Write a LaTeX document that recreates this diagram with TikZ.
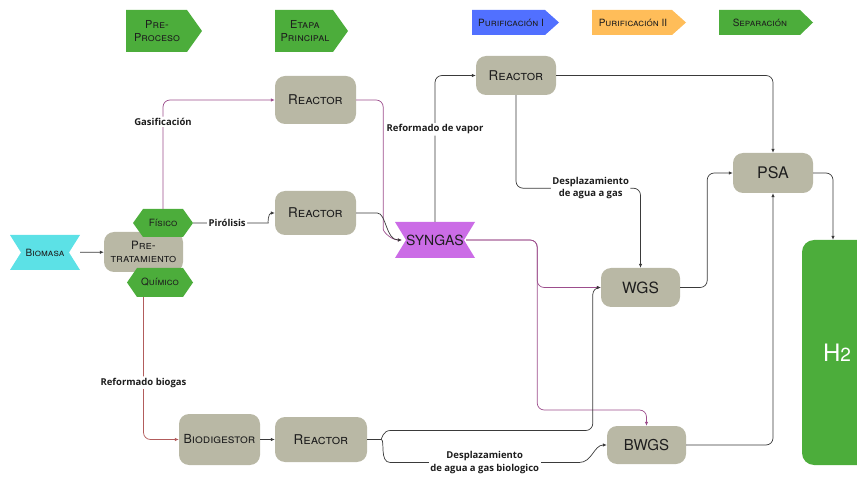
\documentclass[tikz,border=0pt]{standalone}
\usepackage{fontspec}
\setmainfont{TeX Gyre Heros}
\newfontfamily\lblfamily{Open Sans}
\usetikzlibrary{arrows.meta,positioning}
\definecolor{boxgray}{HTML}{B9B8A5}
\definecolor{taggreen}{HTML}{4CAD3B}
\definecolor{tagblue}{HTML}{5170FF}
\definecolor{tagorange}{HTML}{FFBD59}
\definecolor{biocyan}{HTML}{5CE1E6}
\definecolor{synviolet}{HTML}{CB6CE6}
\definecolor{linegray}{HTML}{3A3A3A}
\definecolor{linepurp}{HTML}{9C4D8C}
\definecolor{linered}{HTML}{B25C5C}
\definecolor{textdark}{HTML}{1E1E1E}
\tikzset{
  box/.style={rectangle, rounded corners=10pt, fill=boxgray, inner sep=0pt,
    align=center, text=textdark, font=\fontsize{12.5}{14}\selectfont\scshape},
  reactor/.style={box, font=\fontsize{13.5}{15}\selectfont\scshape},
  notch/.style={rectangle, inner sep=0pt, align=center, text=textdark,
    path picture={\fill[#1] (path picture bounding box.north west)
      -- (path picture bounding box.north east)
      -- ([xshift=-11pt]path picture bounding box.east)
      -- (path picture bounding box.south east)
      -- (path picture bounding box.south west)
      -- ([xshift=11pt]path picture bounding box.west) -- cycle;}},
  hexa/.style={rectangle, inner sep=0pt, align=center, text=textdark,
    font=\fontsize{10}{12}\selectfont\scshape,
    path picture={\fill[taggreen] ([xshift=10pt]path picture bounding box.north west)
      -- ([xshift=-10pt]path picture bounding box.north east)
      -- (path picture bounding box.east)
      -- ([xshift=-10pt]path picture bounding box.south east)
      -- ([xshift=10pt]path picture bounding box.south west)
      -- (path picture bounding box.west) -- cycle;}},
  tagtext/.style={align=center, inner sep=0pt, text=textdark, font=\fontsize{11}{13}\selectfont\scshape},
  lbl/.style={fill=white, inner sep=1.5pt, align=center, text=textdark,
    font=\lblfamily\bfseries\fontsize{9.5}{12.5}\selectfont},
  flow/.style={draw=linegray, line width=0.7pt, rounded corners=7pt,
    -{Latex[length=4pt,width=3.5pt]}},
  purp/.style={flow, draw=linepurp},
}
\begin{document}
\begin{tikzpicture}[x=1pt,y=-1pt]
\useasboundingbox (0,0) rectangle (857,478);
% legend tags
\fill[taggreen] (126,10) -- (187,10) -- (202,31) -- (187,52) -- (126,52) -- cycle;
\node[tagtext] (tpre) at (157,31) {Pre-\\Proceso};
\fill[taggreen] (275,10) -- (333,10) -- (348,31) -- (333,52) -- (275,52) -- cycle;
\node[tagtext] (tetapa) at (305,31) {Etapa\\Principal};
\fill[tagblue] (472,10) -- (545,10) -- (559,22.5) -- (545,35) -- (472,35) -- cycle;
\node[tagtext, font=\fontsize{10}{12}\selectfont\scshape] (tpur1) at (511,22.5) {Purificación I};
\fill[tagorange] (592,10) -- (672,10) -- (686,22.5) -- (672,35) -- (592,35) -- cycle;
\node[tagtext, font=\fontsize{10}{12}\selectfont\scshape] (tpur2) at (633,22.5) {Purificación II};
\fill[taggreen] (719,10) -- (800,10) -- (813,22.5) -- (800,35) -- (719,35) -- cycle;
\node[tagtext, font=\fontsize{10}{12}\selectfont\scshape] (tsep) at (760,22.5) {Separación};

% process nodes
\node[notch=biocyan, minimum width=70pt, minimum height=35pt,
  font=\fontsize{10}{12}\selectfont\scshape] (bio) at (45,252.5) {Biomasa};
\node[box, minimum width=79pt, minimum height=40pt,
  font=\fontsize{11.5}{12.5}\selectfont\scshape] (pre) at (143.5,252) {Pre-\\tratamiento};
\node[hexa, minimum width=60pt, minimum height=28pt] (fis) at (163,223) {Físico};
\node[hexa, minimum width=66pt, minimum height=29pt] (qui) at (160,282.5) {Químico};
\node[reactor, minimum width=81pt, minimum height=48pt] (rea1) at (315.5,100) {Reactor};
\node[reactor, minimum width=81pt, minimum height=44pt] (rea2) at (315.5,213) {Reactor};
\node[reactor, minimum width=80pt, minimum height=39pt] (rea3) at (516,75.5) {Reactor};
\node[notch=synviolet, minimum width=80pt, minimum height=36pt,
  font=\fontsize{14}{16}\selectfont] (syn) at (435,240) {SYNGAS};
\node[box, minimum width=79pt, minimum height=39pt, font=\fontsize{15.5}{17}\selectfont] (wgs) at (640.5,287.5) {WGS};
\node[box, minimum width=80pt, minimum height=40pt, font=\fontsize{16}{18}\selectfont] (psa) at (773,173) {PSA};
\node[box, minimum width=79pt, minimum height=38pt, font=\fontsize{15}{17}\selectfont] (bwgs) at (646.5,445) {BWGS};
\node[box, minimum width=81pt, minimum height=51pt] (dig) at (219.5,439.5) {Biodigestor};
\node[reactor, minimum width=92pt, minimum height=45pt] (rea4) at (321,439.5) {Reactor};
\node[rectangle, rounded corners=12pt, fill=taggreen, text=white, minimum width=70pt,
  minimum height=225pt, font=\fontsize{24}{26}\selectfont] (h2) at (837,352.5)
  {H\fontsize{19}{20}\selectfont 2};

% connectors
\draw[flow] (bio) -- (pre);
\draw[purp] (fis.north) |- node[lbl, pos=0.4] {Gasificación} (rea1.west);
\draw[flow] (fis.east) -- node[lbl] {Pirólisis} ++(68,0) [sharp corners] to[out=0, in=180] (rea2.west);
\draw[purp] (rea1.east) -| ++(27,122) [sharp corners] to[out=-90, in=180] ([xshift=7pt]syn.west);
\draw[flow] (rea2.east) -- ++(14,0) [sharp corners] to[out=0, in=180] ([xshift=7pt]syn.west);
\draw[flow] (syn.north) |- node[lbl, pos=0.316] {Reformado de vapor} (rea3.west);
\draw[flow] (rea3.east) -| (psa.north);
\draw[flow] (rea3.south) -- ++(0,93) -| node[lbl, pos=0.3] {Desplazamiento\\de agua a gas} (wgs.north);
\draw[purp] ([xshift=-9pt]syn.east) -- ++(71,0) |- (wgs.west);
\draw[purp] ([xshift=-9pt]syn.east) -- ++(71,0) -- ++(0,170) -| (bwgs.north);
\draw[flow] (wgs.east) -- ++(27,0) |- (psa.west);
\draw[flow] (psa.east) -| ([xshift=-4pt]h2.north);
\draw[flow, draw=linered] (qui.south -| pre.south) |- node[lbl, pos=0.3] {Reformado biogas} (dig.west);
\draw[flow] (dig) -- (rea4);
\draw[flow] (rea4.east) -- ++(7,0) [sharp corners] to[out=0, in=180] ++(16,-9)
  [rounded corners=7pt] -| ([xshift=-8pt]wgs.west) -- (wgs.west);
\draw[flow] (rea4.east) -- ++(7,0) [sharp corners] to[out=0, in=180] ++(16,23)
  -- node[lbl] {Desplazamiento\\de agua a gas biologico} ++(189,0) to[out=0, in=180] (bwgs.west);
\draw[flow] (bwgs.east) -| (psa.south);
\end{tikzpicture}
\end{document}
